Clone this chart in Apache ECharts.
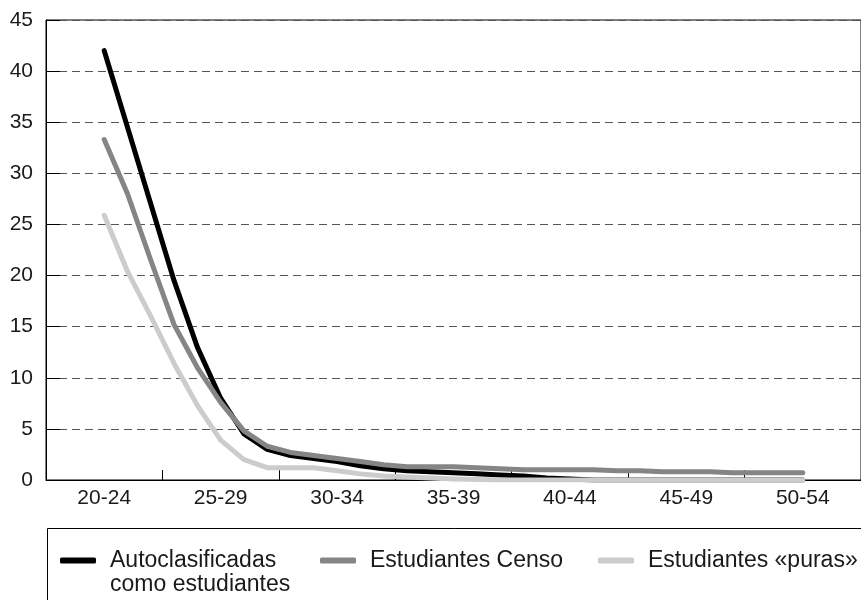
<!DOCTYPE html>
<html>
<head>
<meta charset="utf-8">
<script src="https://cdn.jsdelivr.net/npm/echarts@6/dist/echarts.min.js"></script>
<style>
html,body{margin:0;padding:0;background:#fff;}
#chart{width:861px;height:600px;}
</style>
</head>
<body>
<div id="chart"></div>
<script>
// Age groups (axis labels)
var categories = ['20-24','25-29','30-34','35-39','40-44','45-49','50-54'];
// Single ages plotted (centered 5-year values)
var ages = [22,23,24,25,26,27,28,29,30,31,32,33,34,35,36,37,38,39,40,41,42,43,44,45,46,47,48,49,50,51,52];
var autoclasificadas = [42,34.5,27,19.5,13,8,4.5,3.0,2.4,2.1,1.8,1.4,1.1,0.9,0.8,0.7,0.6,0.5,0.4,0.2,0.1,0,0,0,0,0,0,0,0,0,0];
var censo = [33.3,28,21.5,15.2,11,7.6,4.8,3.3,2.7,2.4,2.1,1.8,1.5,1.3,1.3,1.3,1.2,1.1,1.0,1.0,1.0,1.0,0.9,0.9,0.8,0.8,0.8,0.7,0.7,0.7,0.7];
var puras = [25.9,20.4,16.0,11.4,7.3,3.9,2.0,1.2,1.2,1.2,0.9,0.6,0.4,0.3,0.2,0.1,0.05,0,0,0,0,0,0,0,0,0,0,0,0,0,0];
var seriesNames = ['Autoclasificadas como estudiantes','Estudiantes Censo','Estudiantes «puras»'];
var legendLine1 = ['Autoclasificadas','Estudiantes Censo','Estudiantes «puras»'];
var legendLine2 = 'como estudiantes';
var seriesColors = ['#000000','#858585','#cccccc'];

function pairs(vals){ return ages.map(function(a,i){ return [a, vals[i]]; }); }
var allVals = [autoclasificadas, censo, puras];

var font = 'Liberation Sans, Arial, sans-serif';
var chart = echarts.init(document.getElementById('chart'));
var legendLefts = [60, 320, 598];
chart.setOption({
  animation:false,
  backgroundColor:'#ffffff',
  grid:{left:46, top:20, width:819, height:460, show:true, borderColor:'#000', borderWidth:1, backgroundColor:'transparent'},
  xAxis:[
    {type:'value', min:19.5, max:54.5, show:false},
    {type:'category', data:categories, position:'bottom', boundaryGap:true,
     axisLine:{show:true, lineStyle:{color:'#000', width:1}},
     axisTick:{show:true, inside:true, length:10, lineStyle:{color:'#000'}},
     axisLabel:{color:'#1a1a1a', fontSize:21, fontFamily:font, margin:8},
     splitLine:{show:false}}
  ],
  yAxis:{type:'value', min:0, max:45, interval:5,
    axisLine:{show:true, lineStyle:{color:'#000', width:1}},
    axisTick:{show:true, inside:true, length:14, lineStyle:{color:'#000'}},
    axisLabel:{color:'#1a1a1a', fontSize:21, fontFamily:font, margin:13},
    splitLine:{show:true, lineStyle:{color:'#555', width:1, type:[8,5]}}
  },
  graphic:[
    {type:'rect', shape:{x:47.5, y:528.5, width:900, height:120}, style:{fill:'none', stroke:'#000', lineWidth:1}, silent:true},
    {type:'text', left:110, top:573, style:{text:legendLine2, fontSize:23, fontFamily:font, fill:'#1a1a1a'}, silent:true}
  ],
  legend: seriesNames.map(function(n,i){
    return {data:[n], left:legendLefts[i], top:549, padding:0, itemWidth:36, itemHeight:6, icon:'roundRect', itemGap:10,
      formatter:function(){ return legendLine1[i]; },
      textStyle:{fontSize:23, fontFamily:font, color:'#1a1a1a', padding:[0,0,0,9]}};
  }),
  series: seriesNames.map(function(n,i){
    return {name:n, type:'line', xAxisIndex:0, data:pairs(allVals[i]), symbol:'none', smooth:false,
      color:seriesColors[i], lineStyle:{color:seriesColors[i], width:5, cap:'round', join:'round'}, z:2+i};
  })
});
</script>
</body>
</html>
